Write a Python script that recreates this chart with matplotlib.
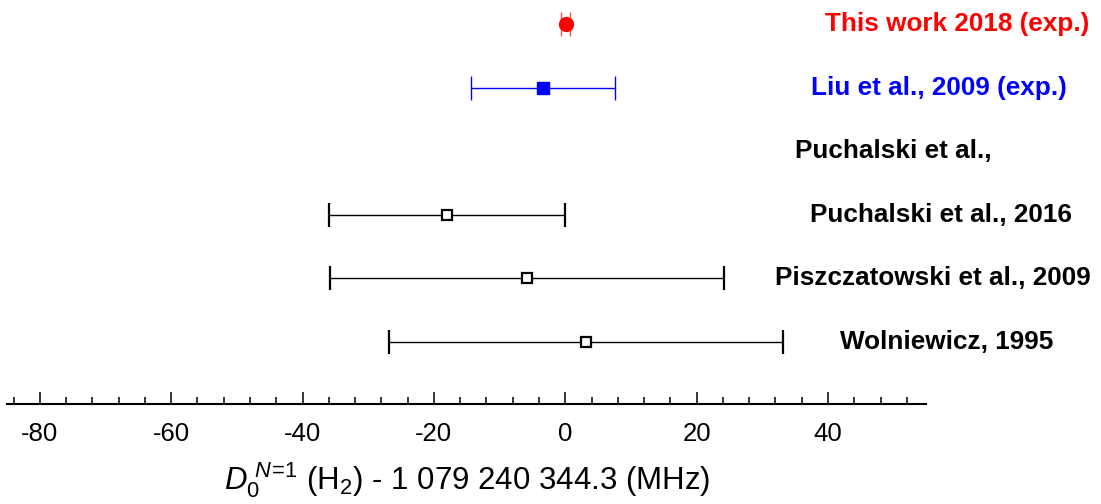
import matplotlib
matplotlib.use("Agg")
import matplotlib.pyplot as plt
from matplotlib.ticker import MultipleLocator

plt.rcParams["font.family"] = ["Liberation Sans", "DejaVu Sans"]
plt.rcParams["mathtext.fontset"] = "custom"
plt.rcParams["mathtext.rm"] = "Liberation Sans"
plt.rcParams["mathtext.it"] = "Liberation Sans:italic"
plt.rcParams["mathtext.bf"] = "Liberation Sans:bold"
plt.rcParams["axes.unicode_minus"] = False

# Dissociation energy determinations, offsets from 1 079 240 344.3 MHz
labels = ["This work 2018 (exp.)", "Liu et al., 2009 (exp.)", "Puchalski et al.,",
          "Puchalski et al., 2016", "Piszczatowski et al., 2009", "Wolniewicz, 1995"]
values = [0.05, -3.4, None, -18.0, -5.8, 3.2]
errors = [0.7, 11.0, None, 18.0, 30.0, 30.0]
rows = [6, 5, 4, 3, 2, 1]
label_colors = ["#ff0000", "#0000ff", "black", "black", "black", "black"]
label_x = [825, 811, 795, 810, 775, 840]   # left edge of each label, figure pixels

W, H = 1101, 504
fig = plt.figure(figsize=(W / 100, H / 100), dpi=100)
ax = fig.add_axes([7 / W, 100 / H, (926.5 - 7) / W, 404 / H])

ax.set_xlim(-85, 55)
ax.set_ylim(0.025, 6.38)

styles = [
    dict(fmt="o", color="#ff0000", ecolor="#ff5050", ms=10, mfc="#ff0000", mec="#ff0000", mew=1),
    dict(fmt="s", color="#0000ff", ecolor="#0000ff", ms=8.5, mfc="#0000ff", mec="#0000ff", mew=1),
    None,
    dict(fmt="s", color="black", ecolor="black", ms=7, mfc="white", mec="black", mew=1.6),
    dict(fmt="s", color="black", ecolor="black", ms=7, mfc="white", mec="black", mew=1.6),
    dict(fmt="s", color="black", ecolor="black", ms=7, mfc="white", mec="black", mew=1.6),
]

for v, e, r, st in zip(values, errors, rows, styles):
    if v is None:
        continue
    ax.errorbar([v], [r], xerr=[e], capsize=8.5, elinewidth=1.0, capthick=1.3,
                zorder=3, **st)

for lab, r, c, lx in zip(labels, rows, label_colors, label_x):
    # convert row position to figure coords via the axes transform
    _, yd = ax.transData.transform((0, r))
    fig.text(lx / W, yd / H, lab, color=c, fontsize=18.8, fontweight="bold",
             ha="left", va="center")

for s in ["top", "right", "left"]:
    ax.spines[s].set_visible(False)
ax.spines["bottom"].set_linewidth(1.5)
ax.set_yticks([])

ax.xaxis.set_major_locator(MultipleLocator(20))
ax.xaxis.set_minor_locator(MultipleLocator(4))
ax.tick_params(axis="x", which="major", direction="in", length=9, width=1.1,
               labelsize=18.5, pad=13)
ax.tick_params(axis="x", which="minor", direction="in", length=5, width=1.1)

ax.set_xlabel(r"$D_{0}^{\ N\!=\!1}$ (H$_{2}$) - 1 079 240 344.3 (MHz)",
              fontsize=22.5, labelpad=10)

fig.savefig("out.png", dpi=100)
